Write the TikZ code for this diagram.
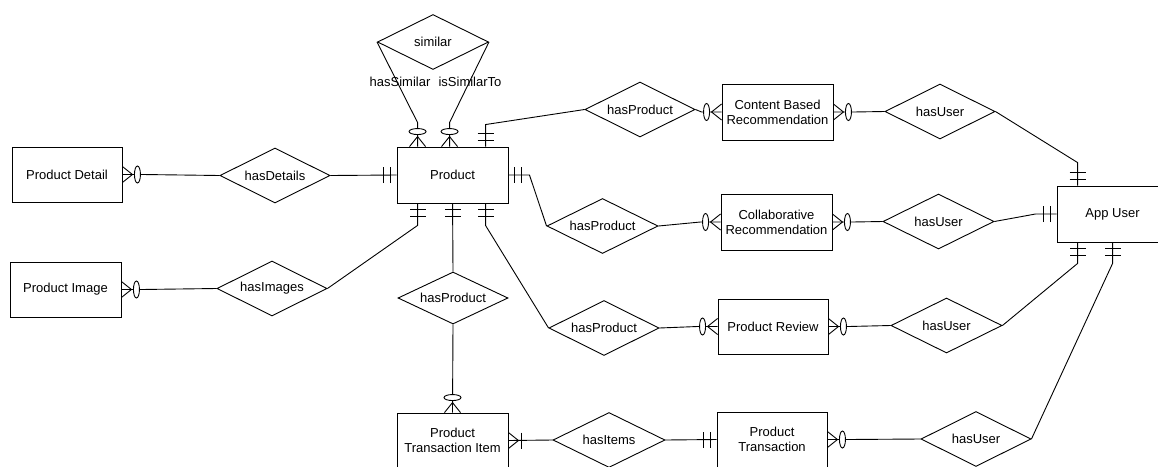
\documentclass[tikz,border=0pt]{standalone}
\usepackage{fontspec}
\setmainfont{Liberation Sans}
\usetikzlibrary{shapes.geometric,calc}
\tikzset{
  ent/.style={draw, rectangle, minimum width=111pt, minimum height=56pt, inner sep=1pt, align=center},
  rel/.style={draw, diamond, minimum width=110pt, minimum height=55pt, inner sep=0pt, aspect=2},
  lbl/.style={inner sep=0pt},
  zm/.pic={\draw (0,-8)--(10,0)--(0,8); \draw[fill=white] (15,0) ellipse [x radius=3, y radius=8.5];},
  oo/.pic={\draw (6,-8)--(6,8) (13,-8)--(13,8);},
  om/.pic={\draw (0,-8)--(10,0)--(0,8); \draw (13,-8)--(13,8);},
}
\begin{document}
\begin{tikzpicture}[x=1pt, y=-1pt, line width=0.9pt, font=\fontsize{13}{15}\selectfont]
\useasboundingbox (0,0) rectangle (1158,466);
\clip (0,0) rectangle (1158,466);
\fill[white] (0,0) rectangle (1158,466);

% entities
\node[ent, minimum width=110pt, minimum height=55pt] (pd) at (67,174.5) {Product Detail};
\node[ent, minimum height=55pt] (pi) at (65.5,289.5) {Product Image};
\node[ent] (pr) at (452.5,175) {Product};
\node[ent] (cbr) at (777.5,112) {Content Based\\Recommendation};
\node[ent] (cr) at (776.5,222) {Collaborative\\Recommendation};
\node[ent, minimum width=110pt, minimum height=55pt] (rev) at (773,326.5) {Product Review};
\node[ent] (au) at (1112.5,214) {App User};
\node[ent, minimum height=55pt] (pti) at (452.5,440.5) {Product\\Transaction Item};
\node[ent, minimum width=110pt, minimum height=55pt] (pt) at (772,439.5) {Product\\Transaction};

% relationships
\node[rel, minimum width=111pt] (sim) at (433,42) {similar};
\node[rel] (hd) at (275,175.5) {hasDetails};
\node[rel] (hi) at (272,288.5) {hasImages};
\node[rel] (hp0) at (640,109.5) {hasProduct};
\node[rel, minimum width=111pt] (hp1) at (602.5,226) {hasProduct};
\node[rel] (hp2) at (604,328) {hasProduct};
\node[rel, minimum height=52pt] (hp3) at (453,298) {hasProduct};
\node[rel] (hu1) at (940,111.5) {hasUser};
\node[rel, minimum width=111pt] (hu2) at (938.5,221.5) {hasUser};
\node[rel, minimum width=111pt] (hu3) at (946.5,325.5) {hasUser};
\node[rel] (hu4) at (976,439) {hasUser};
\node[rel, minimum width=112pt] (hit) at (609,440) {hasItems};

% edge labels
\node[lbl] (lhs) at (400,82) {hasSimilar};
\node[lbl] (lis) at (470,82) {isSimilarTo};

% ports
\coordinate (prT1) at ($(pr.north west)+(21,0)$);
\coordinate (prT2) at ($(pr.north west)+(53,0)$);
\coordinate (prT3) at ($(pr.north west)+(89,0)$);
\coordinate (prB1) at ($(pr.south west)+(21,0)$);
\coordinate (prB2) at ($(pr.south west)+(56,0)$);
\coordinate (prB3) at ($(pr.south west)+(89,0)$);
\coordinate (auT) at ($(au.north west)+(21,0)$);
\coordinate (auB1) at ($(au.south west)+(21,0)$);
\coordinate (auB2) at ($(au.south west)+(56,0)$);

% connectors
\draw (sim.west) -- ($(prT1)+(0,-24)$) -- (prT1);
\draw (sim.east) -- ($(prT2)+(0,-24)$) -- (prT2);
\draw (prT3) -- ($(prT3)+(0,-22)$) -- (hp0.west);
\draw (pd.east) -- ($(pd.east)+(20,0)$) -- (hd.west);
\draw (hd.east) -- (pr.west);
\draw (pi.east) -- ($(pi.east)+(20,0)$) -- (hi.west);
\draw (hi.east) -- ($(prB1)+(0,22)$) -- (prB1);
\draw (prB2) -- (hp3.north);
\draw (hp3.south) -- (pti.north);
\draw (prB3) -- ($(prB3)+(0,22)$) -- (hp2.west);
\draw (pr.east) -- ($(pr.east)+(21,0)$) -- (hp1.west);
\draw (hp0.east) -- ($(cbr.west)+(-20,0)$) -- (cbr.west);
\draw (cbr.east) -- ($(cbr.east)+(20,0)$) -- (hu1.west);
\draw (hu1.east) -- ($(auT)+(0,-23)$) -- (auT);
\draw (hp1.east) -- ($(cr.west)+(-20,0)$) -- (cr.west);
\draw (cr.east) -- ($(cr.east)+(20,0)$) -- (hu2.west);
\draw (hu2.east) -- ($(au.west)+(-21,0)$) -- (au.west);
\draw (hp2.east) -- ($(rev.west)+(-20,0)$) -- (rev.west);
\draw (rev.east) -- ($(rev.east)+(20,0)$) -- (hu3.west);
\draw (hu3.east) -- ($(auB1)+(0,21)$) -- (auB1);
\draw (hu4.east) -- ($(auB2)+(0,21)$) -- (auB2);
\draw (pt.east) -- ($(pt.east)+(20,0)$) -- (hu4.west);
\draw (pti.east) -- (hit.west);
\draw (hit.east) -- (pt.west);

% cardinality markers
\pic[rotate=90] at (prT1) {zm};
\pic[rotate=90] at (prT2) {zm};
\pic[rotate=90] at (prT3) {oo};
\pic at (pd.east) {zm};
\pic[rotate=180] at (pr.west) {oo};
\pic at (pi.east) {zm};
\pic[rotate=-90] at (prB1) {oo};
\pic[rotate=-90] at (prB2) {oo};
\pic[rotate=-90] at (prB3) {oo};
\pic[rotate=90] at (pti.north) {zm};
\pic at (pr.east) {oo};
\pic[rotate=180] at (cbr.west) {zm};
\pic at (cbr.east) {zm};
\pic[rotate=90] at (auT) {oo};
\pic[rotate=180] at (cr.west) {zm};
\pic at (cr.east) {zm};
\pic[rotate=180] at (au.west) {oo};
\pic[rotate=180] at (rev.west) {zm};
\pic at (rev.east) {zm};
\pic[rotate=-90] at (auB1) {oo};
\pic[rotate=-90] at (auB2) {oo};
\pic at (pt.east) {zm};
\pic at (pti.east) {om};
\pic[rotate=180] at (pt.west) {oo};
\end{tikzpicture}
\end{document}
